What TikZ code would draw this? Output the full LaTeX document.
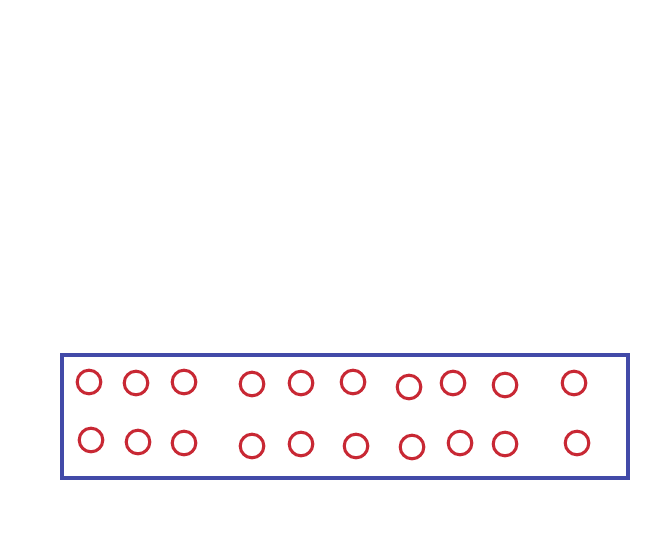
\documentclass[tikz,border=0pt]{standalone}
\definecolor{boxblue}{RGB}{66,74,168}
\definecolor{ringred}{RGB}{200,40,52}
\begin{document}
\begin{tikzpicture}[x=0.03cm,y=-0.03cm]
        \useasboundingbox (0,0) rectangle (667,536);
        \draw [draw=boxblue, line width=2.8pt] (62,355) rectangle (628,478);

        \foreach \x/\y [count=\i] in {89/382,136/383,184/382,252/384,301/383,353/382,409/387,453/383,505/385,574/383} {
                \draw [draw=ringred, line width=2.6pt] (\x,\y) circle (11.8);
        }
        \foreach \x/\y [count=\i] in {91/440,138/442,184/443,252/446,301/444,356/446,412/447,460/443,505/444,577/443} {
                \draw [draw=ringred, line width=2.6pt] (\x,\y) circle (11.8);
        }

\end{tikzpicture}
\end{document}
